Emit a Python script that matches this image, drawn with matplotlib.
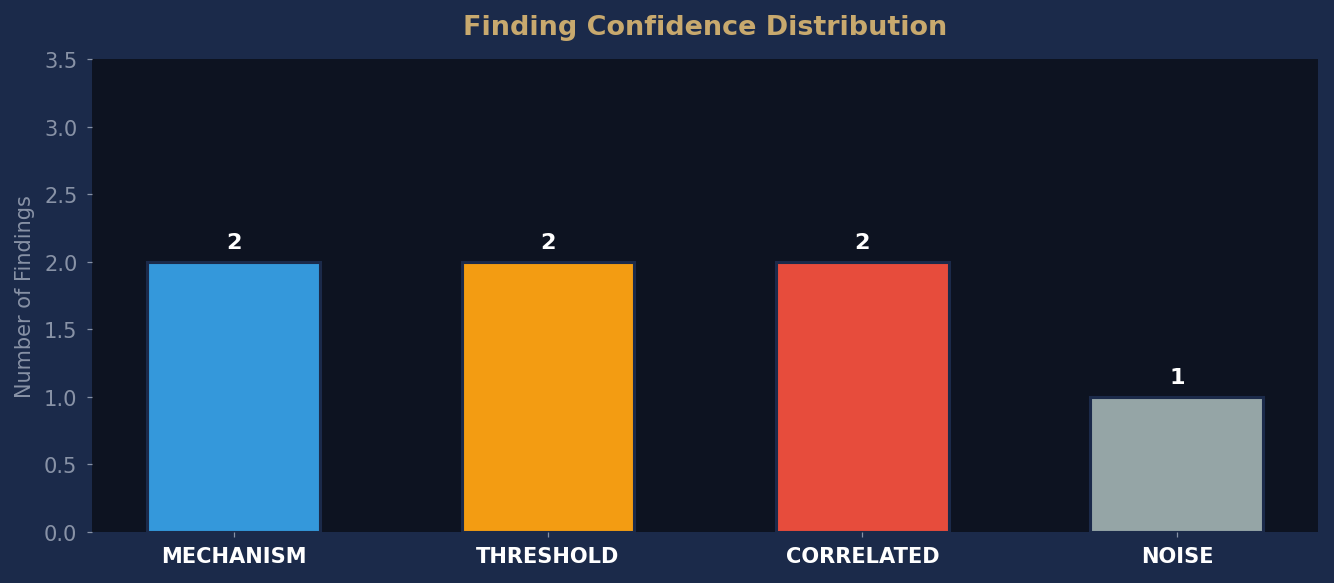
import numpy as np
import matplotlib.pyplot as plt

# Data
categories = ['MECHANISM', 'THRESHOLD', 'CORRELATED', 'NOISE']
counts = [2, 2, 2, 1]
colors = ['#3498db', '#f39c12', '#e74c3c', '#95a5a6']

bg = '#1b2a4a'
ax_bg = '#0d1321'
tick_col = '#8892a6'

fig, ax = plt.subplots(figsize=(12, 5.25), dpi=111.2)
fig.patch.set_facecolor(bg)
ax.set_facecolor(ax_bg)
fig.subplots_adjust(left=0.069, right=0.988, top=0.897, bottom=0.0875)

x = np.arange(len(categories))
bars = ax.bar(x, counts, width=0.55, color=colors, edgecolor=bg, linewidth=2)

for xi, v in zip(x, counts):
    ax.text(xi, v + 0.07, str(v), ha='center', va='bottom',
            color='white', fontsize=14.5, fontweight='bold')

ax.set_xticks(x)
ax.set_xticklabels(categories, color='white', fontsize=13.5, fontweight='bold')
ax.set_ylim(0, 3.5)
ax.set_xlim(-0.45, 3.45)
ax.tick_params(axis='both', colors=tick_col, labelsize=13.6, pad=6)
for lab in ax.get_xticklabels():
    lab.set_color('white')
ax.set_ylabel('Number of Findings', color=tick_col, fontsize=13.5, labelpad=6)
ax.set_title('Finding Confidence Distribution', color='#c8a96e',
             fontsize=17.5, fontweight='bold', pad=16)
for s in ax.spines.values():
    s.set_visible(False)

fig.savefig('out.png', facecolor=bg)
